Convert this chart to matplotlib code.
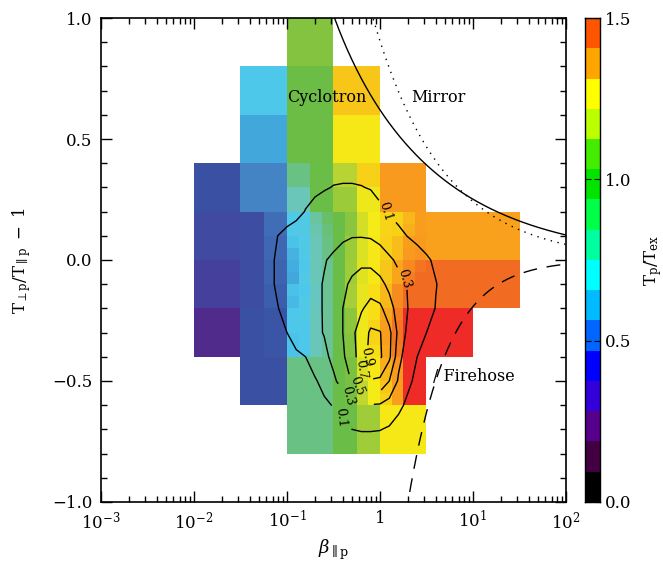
import numpy as np
import matplotlib
matplotlib.use("Agg")
import matplotlib.pyplot as plt
from matplotlib.colors import LinearSegmentedColormap, ListedColormap, Normalize
from matplotlib.ticker import MultipleLocator, FixedLocator, LogLocator, FuncFormatter, NullFormatter, NullLocator

plt.rcParams['font.family'] = ['DejaVu Serif']
plt.rcParams['mathtext.fontset'] = 'dejavuserif'

nan = np.nan

# ---- binned temperature ratio T_p/T_ex, three levels of refinement ----
# coarse bins: 0.5 decade in beta by 0.2 in anisotropy (rows listed top to bottom)
coarse_logb = np.linspace(-2.0, 1.5, 8)
coarse_aniso = np.linspace(-0.8, 1.0, 10)
coarse_temp = [
    [nan,   nan,  1.08, nan,  nan,   nan,   nan],    # 0.8 .. 1.0
    [nan,   0.70, 0.99, 1.31, nan,   nan,   nan],    # 0.6 .. 0.8
    [nan,   0.61, 0.99, 1.27, nan,   nan,   nan],    # 0.4 .. 0.6
    [0.42,  0.52, 0.95, 1.22, 1.37,  nan,   nan],    # 0.2 .. 0.4
    [0.385, 0.42, 0.85, 1.15, 1.35,  1.355, 1.355],  # 0.0 .. 0.2
    [0.33,  0.43, 0.80, 1.15, 1.42,  1.455, 1.455],  # -0.2 .. 0.0
    [0.24,  0.42, 0.80, 1.15, 1.60,  1.60,  nan],    # -0.4 .. -0.2
    [nan,   0.42, 0.88, 1.08, 1.55,  nan,   nan],    # -0.6 .. -0.4
    [nan,   nan,  0.88, 1.04, 1.27,  nan,   nan],    # -0.8 .. -0.6
]

# medium bins: 0.25 decade by 0.1
mid_logb = np.linspace(-1.5, 0.5, 9)
mid_aniso = np.linspace(-0.8, 0.4, 13)
mid_temp = [
    [nan,  nan,  0.88, 0.98, 1.17, 1.30, nan, nan],  # 0.3 .. 0.4
    [nan,  nan,  0.80, 0.98, 1.12, 1.25, nan, nan],  # 0.2 .. 0.3
    [0.40, 0.48, nan,  nan,  nan,  nan,  nan, nan],
    [0.40, 0.465, nan, nan,  nan,  nan,  nan, nan],
    [0.40, 0.46, nan,  nan,  nan,  nan,  nan, nan],
    [0.40, 0.45, nan,  nan,  nan,  nan,  nan, nan],
    [0.42, 0.43, nan,  nan,  nan,  nan,  nan, nan],
    [0.42, 0.43, nan,  nan,  nan,  nan,  nan, nan],
    [nan,  nan,  nan,  nan,  nan,  nan,  nan, nan],
    [nan,  nan,  nan,  nan,  nan,  nan,  nan, nan],
    [nan,  nan,  0.88, 0.88, 0.98, 1.13, nan, nan],  # -0.7 .. -0.6
    [nan,  nan,  0.88, 0.88, 0.98, 1.13, nan, nan],  # -0.8 .. -0.7
]

# fine bins: 0.125 decade by 0.05, core of the distribution
fine_logb = np.linspace(-1.0, 0.5, 13)
fine_aniso = np.linspace(-0.6, 0.2, 17)
fine_temp = [
    [0.71, 0.72, 0.84, 0.93, 0.98, 1.09, 1.21, 1.26, 1.29, 1.30, 1.33, 1.36],
    [0.71, 0.72, 0.82, 0.90, 0.98, 1.09, 1.21, 1.26, 1.29, 1.30, 1.34, 1.36],
    [0.69, 0.71, 0.80, 0.88, 0.98, 1.12, 1.22, 1.27, 1.30, 1.32, 1.36, 1.37],
    [0.64, 0.71, 0.80, 0.88, 0.98, 1.12, 1.22, 1.27, 1.30, 1.32, 1.37, 1.38],
    [0.63, 0.70, 0.80, 0.86, 0.98, 1.13, 1.23, 1.27, 1.31, 1.35, 1.40, 1.43],
    [0.61, 0.71, 0.80, 0.86, 0.98, 1.13, 1.23, 1.27, 1.31, 1.35, 1.42, 1.45],
    [0.68, 0.70, 0.79, 0.86, 0.98, 1.14, 1.24, 1.28, 1.33, 1.39, 1.45, 1.46],
    [0.66, 0.71, 0.79, 0.86, 0.98, 1.14, 1.24, 1.28, 1.33, 1.39, 1.45, 1.46],
    [0.70, 0.71, 0.80, 0.85, 0.98, 1.10, 1.25, 1.28, 1.35, 1.42, 1.52, 1.60],
    [0.70, 0.70, 0.80, 0.85, 0.98, 1.10, 1.25, 1.29, 1.36, 1.43, 1.55, 1.60],
    [0.69, 0.70, 0.80, 0.85, 0.98, 1.08, 1.25, 1.29, 1.36, 1.43, 1.60, 1.60],
    [0.69, 0.70, 0.80, 0.85, 0.98, 1.08, 1.25, 1.28, 1.35, 1.42, 1.60, 1.60],
    [0.88, 0.88, 0.88, 0.88, 0.98, 1.05, 1.22, 1.27, 1.34, 1.38, 1.60, 1.60],
    [0.88, 0.88, 0.88, 0.88, 0.98, 1.05, 1.22, 1.27, 1.33, 1.37, 1.60, 1.60],
    [0.88, 0.88, 0.88, 0.88, 0.98, 1.03, 1.18, 1.26, 1.31, 1.36, 1.60, 1.60],
    [0.88, 0.88, 0.88, 0.88, 0.98, 1.03, 1.18, 1.26, 1.30, 1.36, 1.60, 1.60],
]

# ---- normalised occurrence of solar wind intervals (contours) ----
dens_logb = np.linspace(-1.3, 0.7, 21)
dens_aniso = np.linspace(0.4, -0.8, 13)
density = [
    [0, 0, 0, 0, 0.01, 0.02, 0.03, 0.04, 0.05, 0.05, 0.05, 0.04, 0.03, 0.02, 0.01, 0, 0, 0, 0, 0, 0],
    [0, 0, 0.01, 0.02, 0.04, 0.06, 0.08, 0.09, 0.105, 0.11, 0.11, 0.105, 0.09, 0.07, 0.05, 0.03, 0.02, 0.01, 0, 0, 0],
    [0, 0.01, 0.03, 0.05, 0.07, 0.105, 0.13, 0.16, 0.18, 0.20, 0.21, 0.21, 0.19, 0.12, 0.085, 0.06, 0.04, 0.03, 0.02, 0.01, 0],
    [0.02, 0.05, 0.10, 0.13, 0.15, 0.17, 0.19, 0.21, 0.24, 0.27, 0.29, 0.29, 0.28, 0.24, 0.18, 0.13, 0.095, 0.07, 0.05, 0.03, 0.01],
    [0.03, 0.07, 0.12, 0.15, 0.18, 0.21, 0.25, 0.29, 0.33, 0.38, 0.42, 0.45, 0.45, 0.40, 0.33, 0.26, 0.20, 0.15, 0.115, 0.08, 0.04],
    [0.03, 0.07, 0.12, 0.16, 0.20, 0.24, 0.27, 0.31, 0.38, 0.46, 0.54, 0.60, 0.60, 0.55, 0.45, 0.36, 0.29, 0.21, 0.15, 0.105, 0.06],
    [0.02, 0.05, 0.095, 0.15, 0.19, 0.23, 0.27, 0.31, 0.40, 0.50, 0.60, 0.68, 0.77, 0.74, 0.58, 0.40, 0.30, 0.22, 0.15, 0.095, 0.05],
    [0, 0.03, 0.06, 0.10, 0.16, 0.21, 0.26, 0.31, 0.40, 0.50, 0.66, 0.80, 0.93, 0.91, 0.75, 0.44, 0.25, 0.16, 0.10, 0.05, 0.02],
    [0, 0.01, 0.03, 0.05, 0.075, 0.10, 0.17, 0.25, 0.36, 0.47, 0.63, 0.80, 0.97, 0.93, 0.74, 0.36, 0.18, 0.10, 0.06, 0.03, 0.01],
    [0, 0, 0.01, 0.02, 0.03, 0.05, 0.085, 0.15, 0.26, 0.40, 0.52, 0.62, 0.68, 0.66, 0.50, 0.27, 0.13, 0.06, 0.03, 0.01, 0],
    [0, 0, 0, 0.01, 0.01, 0.02, 0.04, 0.07, 0.11, 0.17, 0.23, 0.27, 0.29, 0.28, 0.22, 0.13, 0.07, 0.03, 0.01, 0, 0],
    [0, 0, 0, 0, 0, 0, 0.01, 0.02, 0.04, 0.06, 0.10, 0.11, 0.11, 0.105, 0.08, 0.05, 0.02, 0.01, 0, 0, 0],
    [0] * 21,
]
contour_levels = [0.1, 0.3, 0.5, 0.7, 0.9]

# instability thresholds T_perp/T_par - 1 = a / (beta - beta0)^b
cyclotron = (0.608, 0.385, 0.05)
mirror = (0.905, 0.574, 0.0)
firehose = (-2.18, 1.05, -0.1)

# colour tables: muted one for the cells, 16-step one for the bar
cell_colors = ['#231F20', '#4A1D4E', '#512B8B', '#45409C', '#3A51A3', '#4482C3',
               '#42A6DB', '#4DC9EC', '#6AC6BB', '#69C17F', '#6ABD45', '#80C241',
               '#B9D433', '#F6EB16', '#F9A01C', '#F26B23']
bar_colors = ['#000000', '#420042', '#56008C', '#3300DC', '#0000FF', '#0066FF',
              '#00BBFF', '#00FFFF', '#00FFA0', '#00FF48', '#00E400', '#44EC00',
              '#BBFF00', '#FFFF00', '#FFA500', '#FF5500']

vmax = 1.5
centers = (np.arange(16) + 0.5) / 16
cell_cmap = LinearSegmentedColormap.from_list(
    'cells', list(zip(np.r_[0, centers, 1], [cell_colors[0]] + cell_colors + [cell_colors[-1]])))
cell_cmap.set_over('#EE2B26')
cell_norm = Normalize(0, vmax)

fig = plt.figure(figsize=(6.63, 5.61), dpi=100)
ax = fig.add_axes([0.1523, 0.1052, 0.7014, 0.8627])
cax = fig.add_axes([0.8824, 0.1052, 0.0226, 0.8627])

for logb, aniso, temp in [(coarse_logb, coarse_aniso, coarse_temp),
                          (mid_logb, mid_aniso, mid_temp),
                          (fine_logb, fine_aniso, fine_temp)]:
    c = np.ma.masked_invalid(np.flipud(np.array(temp, dtype=float)))
    ax.pcolormesh(10 ** logb, aniso, c, cmap=cell_cmap, norm=cell_norm,
                  shading='flat', antialiased=False, edgecolors='none')

# occurrence contours, one set per level so each label lands on its own line
D = np.array(density, dtype=float)
label_spots = {0.1: [(10 ** 0.065, 0.20), (10 ** -0.42, -0.65)],
               0.3: [(10 ** 0.20, -0.08), (10 ** -0.40, -0.56)],
               0.5: [(10 ** -0.31, -0.52)],
               0.7: [(10 ** -0.26, -0.45)],
               0.9: [(10 ** -0.14, -0.40)]}
for lev in contour_levels:
    cs = ax.contour(10 ** dens_logb, dens_aniso, D, levels=[lev],
                    colors='k', linewidths=1.0)
    ax.clabel(cs, manual=label_spots[lev], inline=True, inline_spacing=3,
              fmt='%.1f', fontsize=9, colors='k')

# threshold curves
beta = np.logspace(-3, 2, 600)
for (a, b, b0), style in [(cyclotron, dict(ls='-')),
                          (mirror, dict(ls=(0, (1, 4)))),
                          (firehose, dict(ls=(0, (10, 7))))]:
    ok = beta > b0
    ax.plot(beta[ok], a / (beta[ok] - b0) ** b, color='k', lw=1.0, **style)

ax.text(10 ** -1.0, 0.67, 'Cyclotron', fontsize=11.5, va='center', ha='left')
ax.text(10 ** 0.34, 0.67, 'Mirror', fontsize=11.5, va='center', ha='left')
ax.text(10 ** 0.57, -0.48, '/ Firehose', fontsize=11.5, va='center', ha='left')

ax.set_xscale('log')
ax.set_xlim(1e-3, 1e2)
ax.set_ylim(-1, 1)


def pow_label(v, pos):
    e = int(round(np.log10(v)))
    return '1' if e == 0 else r'$10^{%d}$' % e


def dec_label(v, pos):
    return ('%.1f' % v).replace('-', '\u2212')


ax.xaxis.set_major_locator(FixedLocator([1e-3, 1e-2, 1e-1, 1, 1e1, 1e2]))
ax.xaxis.set_major_formatter(FuncFormatter(pow_label))
ax.xaxis.set_minor_locator(LogLocator(base=10, subs=np.arange(2, 10), numticks=30))
ax.xaxis.set_minor_formatter(NullFormatter())
ax.yaxis.set_major_locator(MultipleLocator(0.5))
ax.yaxis.set_minor_locator(MultipleLocator(0.1))
ax.yaxis.set_major_formatter(FuncFormatter(dec_label))
ax.tick_params(which='both', direction='in', top=True, right=True, labelsize=12, width=1)
ax.tick_params(which='major', length=8, pad=6)
ax.tick_params(which='minor', length=4)
for s in ax.spines.values():
    s.set_linewidth(1.2)

ax.set_xlabel(r'$\beta_{\parallel \mathrm{p}}$', fontsize=13, labelpad=4)
ax.set_ylabel(r'$\mathrm{T}_{\perp \mathrm{p}}/\mathrm{T}_{\parallel \mathrm{p}}\ -\ 1$',
              fontsize=12, labelpad=14)

# colour bar: 16 equal steps from 0 to 1.5, drawn as a one-column mesh
bar_edges = np.linspace(0, vmax, len(bar_colors) + 1)
bar_vals = 0.5 * (bar_edges[:-1] + bar_edges[1:])
cax.pcolormesh([0, 1], bar_edges, bar_vals.reshape(-1, 1),
               cmap=ListedColormap(bar_colors), norm=Normalize(0, vmax),
               antialiased=False, edgecolors='none')
cax.set_xlim(0, 1)
cax.set_ylim(0, vmax)
cax.xaxis.set_major_locator(NullLocator())
cax.yaxis.set_major_locator(FixedLocator([0, 0.5, 1.0, 1.5]))
cax.yaxis.set_minor_locator(NullLocator())
cax.yaxis.set_major_formatter(FuncFormatter(dec_label))
cax.yaxis.tick_right()
cax.tick_params(axis='y', direction='in', length=4, labelsize=12, left=True, right=True,
                labelleft=False, labelright=True)
for s in cax.spines.values():
    s.set_linewidth(1.0)
cax.yaxis.set_label_position('right')
cax.set_ylabel(r'$\mathrm{T}_\mathrm{p}/\mathrm{T}_\mathrm{ex}$', fontsize=12, labelpad=8)

fig.savefig('out.png', dpi=100)
